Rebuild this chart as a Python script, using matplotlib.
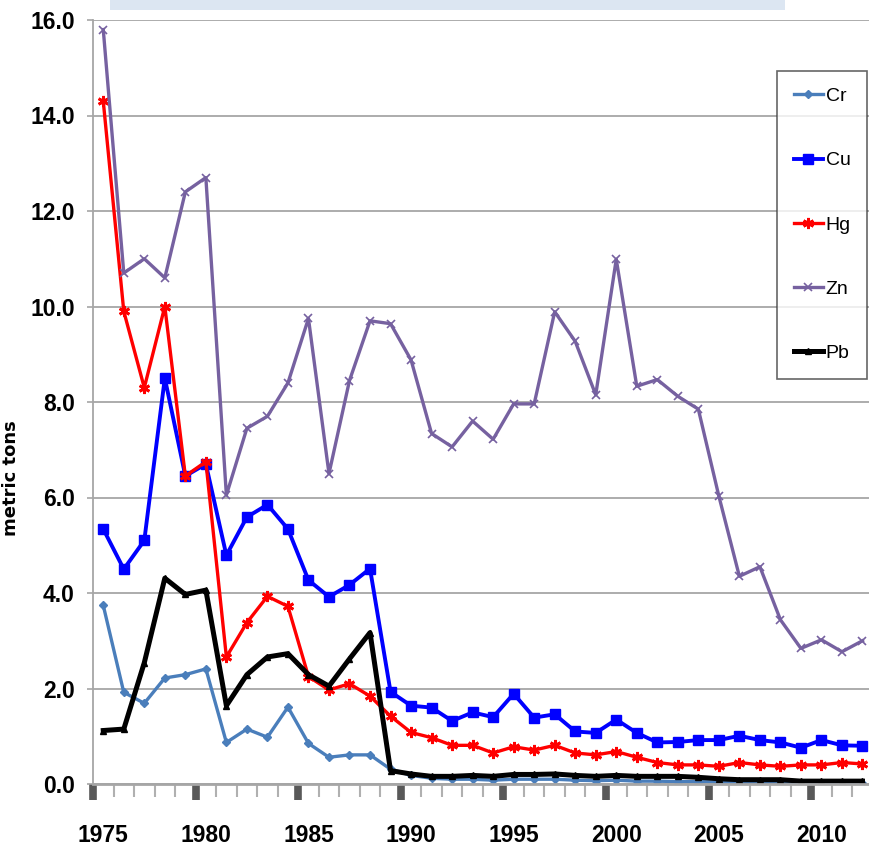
import numpy as np
import matplotlib
matplotlib.use('Agg')
import matplotlib.pyplot as plt
from matplotlib.patches import Rectangle
from matplotlib.ticker import FormatStrFormatter

# 年份与各金属排放量（metric tons）
years = list(range(1975, 2013))
cr = [3.74, 1.92, 1.69, 2.22, 2.29, 2.41, 0.87, 1.15, 0.98, 1.61, 0.85, 0.56, 0.61, 0.61,
      0.31, 0.18, 0.12, 0.10, 0.10, 0.08, 0.10, 0.10, 0.10, 0.08, 0.07, 0.08, 0.06, 0.06,
      0.05, 0.05, 0.04, 0.03, 0.03, 0.03, 0.02, 0.02, 0.02, 0.02]
cu = [5.34, 4.50, 5.10, 8.50, 6.45, 6.70, 4.79, 5.59, 5.85, 5.34, 4.27, 3.92, 4.17, 4.51,
      1.93, 1.64, 1.60, 1.32, 1.50, 1.40, 1.89, 1.39, 1.46, 1.10, 1.07, 1.35, 1.07, 0.87,
      0.88, 0.92, 0.92, 1.01, 0.92, 0.87, 0.76, 0.92, 0.81, 0.80]
hg = [14.3, 9.9, 8.3, 10.0, 6.45, 6.75, 2.66, 3.38, 3.93, 3.72, 2.25, 1.97, 2.10, 1.84,
      1.42, 1.08, 0.97, 0.81, 0.81, 0.65, 0.78, 0.71, 0.81, 0.65, 0.61, 0.68, 0.56, 0.45,
      0.40, 0.40, 0.37, 0.45, 0.40, 0.37, 0.40, 0.40, 0.45, 0.42]
zn = [15.8, 10.7, 11.0, 10.6, 12.4, 12.7, 6.05, 7.45, 7.7, 8.4, 9.75, 6.5, 8.45, 9.7,
      9.64, 8.88, 7.34, 7.06, 7.6, 7.22, 7.96, 7.96, 9.89, 9.27, 8.15, 10.99, 8.33, 8.47,
      8.12, 7.85, 6.03, 4.35, 4.55, 3.44, 2.84, 3.02, 2.77, 3.0]
pb = [1.12, 1.15, 2.54, 4.31, 3.97, 4.06, 1.64, 2.29, 2.66, 2.73, 2.29, 2.05, 2.62, 3.17,
      0.28, 0.21, 0.16, 0.16, 0.18, 0.16, 0.20, 0.20, 0.21, 0.18, 0.16, 0.18, 0.16, 0.16,
      0.16, 0.14, 0.11, 0.09, 0.09, 0.09, 0.06, 0.06, 0.06, 0.06]
label_years = [1975, 1980, 1985, 1990, 1995, 2000, 2005, 2010]

sans = ['Liberation Sans', 'DejaVu Sans']

W, H = 869, 849
fig = plt.figure(figsize=(W / 100, H / 100), dpi=100)
ax = fig.add_axes([93 / W, 65 / H, (872.75 - 93) / W, 764 / H])

# 标题残留的浅蓝色条
fig.add_artist(Rectangle((110 / W, 1 - 10 / H), 675 / W, 10 / H,
                         transform=fig.transFigure, color='#DCE6F2', lw=0))

ax.plot(years, cr, color='#4A7EBB', lw=2.4, marker='D', ms=4.5, label='Cr')
ax.plot(years, cu, color='#0000FF', lw=2.8, marker='s', ms=6.5, label='Cu')
ax.plot(years, hg, color='#FF0000', lw=2.4, marker=(6, 2, 0), ms=8, mew=2, label='Hg')
ax.plot(years, zn, color='#7661A0', lw=2.4, marker='x', ms=6, mew=1.2, label='Zn')
ax.plot(years, pb, color='black', lw=3.6, marker='^', ms=5, label='Pb')

ax.set_xlim(1974.5, 2012.5)
ax.set_ylim(0, 16)

# y轴
ax.set_yticks(np.arange(0, 17, 2))
ax.yaxis.set_major_formatter(FormatStrFormatter('%.1f'))
ax.tick_params(axis='y', length=4, color='#A6A6A6', width=1.2, pad=9)
ax.yaxis.grid(True, color='#A6A6A6', lw=1.3)
ax.set_axisbelow(True)
for lab in ax.get_yticklabels():
    lab.set_family(sans)
    lab.set_fontweight('bold')
    lab.set_fontsize(16.5)

# x轴：刻度在分类边界（每5年深色粗刻度），年份标签居中于数据点
bounds = np.arange(1974.5, 2013, 1)
ax.set_xticks(bounds[::5])
ax.set_xticks([b for i, b in enumerate(bounds) if i % 5], minor=True)
ax.tick_params(axis='x', which='major', length=11.5, width=5.5, color='#595959',
               labelbottom=False)
ax.tick_params(axis='x', which='minor', length=9, width=1.5, color='#B0B0B0')
for yr in label_years:
    ax.text(yr, -0.0668, str(yr), transform=ax.get_xaxis_transform(),
            ha='center', va='center', family=sans, fontweight='bold', fontsize=16.5)

for s in ['top', 'right']:
    ax.spines[s].set_visible(False)
ax.spines['left'].set_color('#A6A6A6')
ax.spines['left'].set_linewidth(1.3)
ax.spines['bottom'].set_color('#A6A6A6')
ax.spines['bottom'].set_linewidth(2)

ax.set_ylabel('metric tons', fontsize=13, fontweight='bold', family='DejaVu Sans')
ax.yaxis.set_label_coords((20 - 93) / 779.75, (784 - 478) / 764)

leg = ax.legend(loc='upper left', bbox_to_anchor=(777 / W, 1 - 71 / H),
                bbox_transform=fig.transFigure, prop={'family': sans, 'size': 14},
                frameon=True, fancybox=False, borderpad=0.85, labelspacing=2.4,
                handlelength=1.5, handletextpad=0.15, borderaxespad=0)
leg.get_frame().set_edgecolor('#404040')
leg.get_frame().set_linewidth(1.2)

fig.savefig('out.png', dpi=100)
